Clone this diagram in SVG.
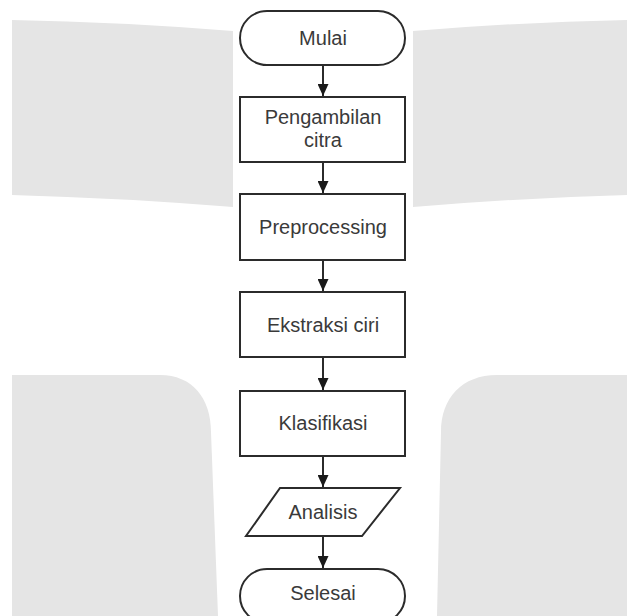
<svg xmlns="http://www.w3.org/2000/svg" width="627" height="616" viewBox="0 0 627 616">
  <style>
    .bg { fill: #e5e5e5; stroke: none; }
    .shape { fill: #ffffff; stroke: #2b2b2b; stroke-width: 2; }
    .label { font-family: "Liberation Sans", Arial, sans-serif; font-size: 20px; fill: #3a3a3a; text-anchor: middle; }
    .conn { stroke: #2b2b2b; stroke-width: 2; fill: none; }
  </style>
  <defs>
    <marker id="arrow" markerUnits="userSpaceOnUse" markerWidth="12" markerHeight="11" refX="12" refY="5.5" orient="auto">
      <path d="M0,0 L12,5.5 L0,11 Z" fill="#1a1a1a"/>
    </marker>
  </defs>
  <rect width="627" height="616" fill="#ffffff"/>
  <g id="background">
    <path class="bg" d="M12,20 Q122,22 233,31 L233,207 Q122,198 12,195 Z"/>
    <path class="bg" d="M413,31 Q520,22 627,20 L627,195 Q520,198 413,207 Z"/>
    <path class="bg" d="M12,375 L160,375 C192,375 211,398 211,432 L218,616 L12,616 Z"/>
    <path class="bg" d="M627,375 L497,375 C462,375 441,398 441,432 L437,616 L627,616 Z"/>
  </g>
  <g id="connectors">
    <line class="conn" x1="323" y1="65" x2="323" y2="96" marker-end="url(#arrow)"/>
    <line class="conn" x1="323" y1="162" x2="323" y2="193" marker-end="url(#arrow)"/>
    <line class="conn" x1="323" y1="260" x2="323" y2="291" marker-end="url(#arrow)"/>
    <line class="conn" x1="323" y1="357" x2="323" y2="390" marker-end="url(#arrow)"/>
    <line class="conn" x1="323" y1="456" x2="323" y2="487" marker-end="url(#arrow)"/>
    <line class="conn" x1="323" y1="536" x2="323" y2="568" marker-end="url(#arrow)"/>
  </g>
  <g id="mulai">
    <rect class="shape" x="240" y="11" width="165" height="54" rx="27" ry="27"/>
    <text class="label" x="323" y="45">Mulai</text>
  </g>
  <g id="pengambilan">
    <rect class="shape" x="240" y="97" width="165" height="65"/>
    <text class="label" x="323" y="124">Pengambilan</text>
    <text class="label" x="323" y="147">citra</text>
  </g>
  <g id="preprocessing">
    <rect class="shape" x="240" y="194" width="165" height="66"/>
    <text class="label" x="323" y="234">Preprocessing</text>
  </g>
  <g id="ekstraksi">
    <rect class="shape" x="240" y="292" width="165" height="65"/>
    <text class="label" x="323" y="332">Ekstraksi ciri</text>
  </g>
  <g id="klasifikasi">
    <rect class="shape" x="240" y="391" width="165" height="65"/>
    <text class="label" x="323" y="430">Klasifikasi</text>
  </g>
  <g id="analisis">
    <polygon class="shape" points="280,488 400,488 362,536 246,536"/>
    <text class="label" x="323" y="519">Analisis</text>
  </g>
  <g id="selesai">
    <rect class="shape" x="240" y="569" width="165" height="54" rx="27" ry="27"/>
    <text class="label" x="323" y="600">Selesai</text>
  </g>
</svg>
